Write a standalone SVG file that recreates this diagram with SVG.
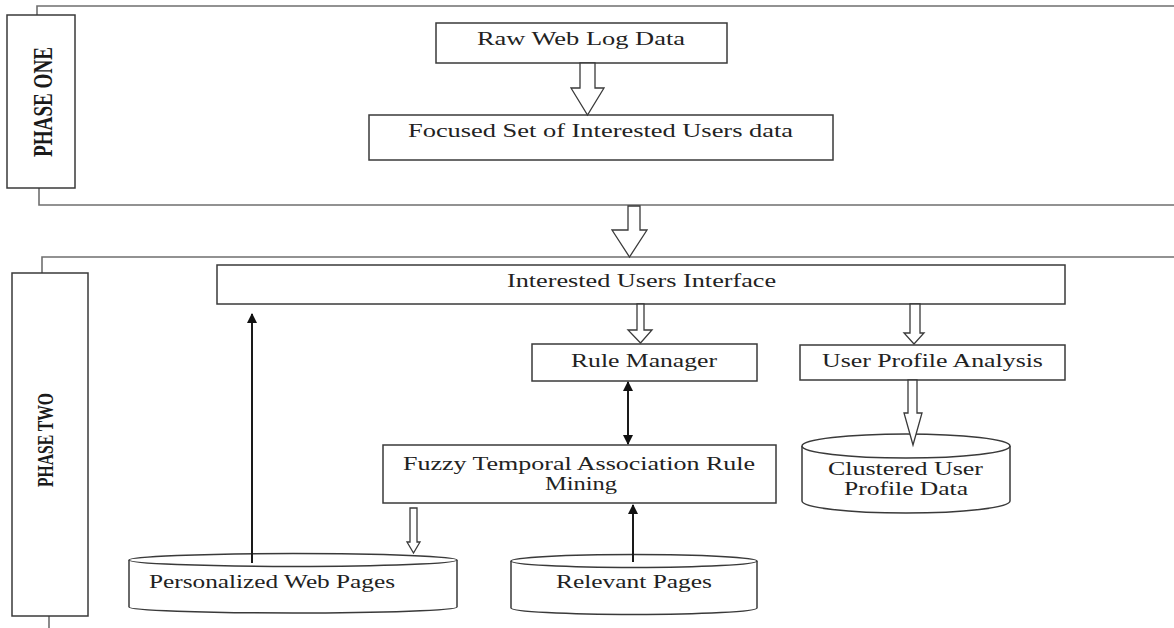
<svg xmlns="http://www.w3.org/2000/svg" width="1174" height="628" viewBox="0 0 1174 628">
  <defs>
    <style>
      .frame { fill: none; stroke: #6f6f6f; stroke-width: 1.6; }
      .box { fill: #ffffff; stroke: #3a3a3a; stroke-width: 1.5; }
      .hollow { fill: #ffffff; stroke: #3a3a3a; stroke-width: 1.3; stroke-linejoin: miter; }
      .solid { fill: none; stroke: #1a1a1a; stroke-width: 2; }
      .lbl { font-family: "Liberation Serif", "Times New Roman", serif; font-size: 19px; fill: #222222; }
      .phase { font-family: "Liberation Serif", "Times New Roman", serif; font-weight: bold; fill: #1a1a1a; text-anchor: middle; }
    </style>
    <marker id="head" viewBox="0 0 10 10" refX="9" refY="5" markerWidth="5" markerHeight="5" orient="auto-start-reverse" markerUnits="strokeWidth">
      <path d="M0,0 L10,5 L0,10 Z" fill="#111111"/>
    </marker>
  </defs>

  <rect width="1174" height="628" fill="#ffffff"/>

  <!-- phase frames -->
  <g id="phase-one">
    <path class="frame" d="M37,15 V6 H1174"/>
    <path class="frame" d="M39,188 V205 H1174"/>
    <rect class="box" x="7" y="15" width="68" height="173"/>
    <text class="phase" font-size="19" textLength="110" lengthAdjust="spacingAndGlyphs" transform="matrix(0,-1,1.45,0,52,102)">PHASE ONE</text>
  </g>

  <g id="phase-two">
    <path class="frame" d="M42,273 V257 H1174"/>
    <path class="frame" d="M49,616 V628"/>
    <rect class="box" x="12" y="273" width="76" height="343"/>
    <text class="phase" font-size="16" textLength="94" lengthAdjust="spacingAndGlyphs" transform="matrix(0,-1,1.45,0,53,440)">PHASE TWO</text>
  </g>

  <!-- process boxes (labels are drawn 1.38x wide) -->
  <g id="raw-web-log">
    <rect class="box" x="436" y="23" width="291" height="40"/>
    <text class="lbl" transform="translate(477,45) scale(1.38,1)" textLength="150.7" lengthAdjust="spacingAndGlyphs">Raw Web Log Data</text>
  </g>

  <g id="focused-set">
    <rect class="box" x="369" y="115" width="464" height="45"/>
    <text class="lbl" transform="translate(408,137) scale(1.38,1)" textLength="279" lengthAdjust="spacingAndGlyphs">Focused Set of Interested Users data</text>
  </g>

  <g id="interested-users-interface">
    <rect class="box" x="217" y="265" width="848" height="39"/>
    <text class="lbl" transform="translate(507,287) scale(1.38,1)" textLength="195" lengthAdjust="spacingAndGlyphs">Interested Users Interface</text>
  </g>

  <g id="rule-manager">
    <rect class="box" x="532" y="344" width="225" height="37"/>
    <text class="lbl" transform="translate(571,367) scale(1.38,1)" textLength="105.8" lengthAdjust="spacingAndGlyphs">Rule Manager</text>
  </g>

  <g id="user-profile-analysis">
    <rect class="box" x="800" y="345" width="265" height="35"/>
    <text class="lbl" transform="translate(822,367) scale(1.38,1)" textLength="160.1" lengthAdjust="spacingAndGlyphs">User Profile Analysis</text>
  </g>

  <g id="fuzzy-temporal-mining">
    <rect class="box" x="383" y="445" width="393" height="58"/>
    <text class="lbl" transform="translate(403,470) scale(1.38,1)" textLength="255.1" lengthAdjust="spacingAndGlyphs">Fuzzy Temporal Association Rule</text>
    <text class="lbl" transform="translate(545,490) scale(1.38,1)" textLength="52.2" lengthAdjust="spacingAndGlyphs">Mining</text>
  </g>

  <!-- data stores -->
  <g id="clustered-user-profile-data">
    <path class="box" d="M802,446 V501 A104,12 0 0 0 1010,501 V446"/>
    <ellipse class="box" cx="906" cy="446" rx="104" ry="12"/>
    <text class="lbl" transform="translate(828,475) scale(1.38,1)" textLength="112.3" lengthAdjust="spacingAndGlyphs">Clustered User</text>
    <text class="lbl" transform="translate(844,495) scale(1.38,1)" textLength="89.9" lengthAdjust="spacingAndGlyphs">Profile Data</text>
  </g>

  <g id="personalized-web-pages">
    <path class="box" d="M129,560 V607 A164,6 0 0 0 457,607 V560"/>
    <ellipse class="box" cx="293" cy="560" rx="164" ry="6.5"/>
    <text class="lbl" transform="translate(149,588) scale(1.38,1)" textLength="178.3" lengthAdjust="spacingAndGlyphs">Personalized Web Pages</text>
  </g>

  <g id="relevant-pages">
    <path class="box" d="M511,561 V608 A123,6.5 0 0 0 757,608 V561"/>
    <ellipse class="box" cx="634" cy="561" rx="123" ry="6.5"/>
    <text class="lbl" transform="translate(556,588) scale(1.38,1)" textLength="113" lengthAdjust="spacingAndGlyphs">Relevant Pages</text>
  </g>

  <!-- connectors -->
  <g id="connectors">
    <!-- block arrows -->
    <path class="hollow" d="M580,63 H595 V88 H604 L587.5,115 L571,88 H580 Z"/>
    <path class="hollow" d="M628,206 H640 V230 H647 L629.5,257 L612,230 H628 Z"/>
    <path class="hollow" d="M637,304 H644 V330 H652 L640.5,343 L628,330 H637 Z"/>
    <path class="hollow" d="M910,304 H920 V333 H924 L914,344 L904,333 H910 Z"/>
    <path class="hollow" d="M908,380 H917 V413 H922 L913,445 L904,413 H908 Z"/>
    <path class="hollow" d="M410,508 H417 V542 H420 L413.5,553 L407,542 H410 Z"/>
    <!-- line arrows -->
    <line class="solid" x1="252" y1="563" x2="252" y2="314" marker-end="url(#head)"/>
    <line class="solid" x1="628" y1="382" x2="628" y2="444" marker-start="url(#head)" marker-end="url(#head)"/>
    <line class="solid" x1="633" y1="562" x2="633" y2="505" marker-end="url(#head)"/>
  </g>
</svg>
